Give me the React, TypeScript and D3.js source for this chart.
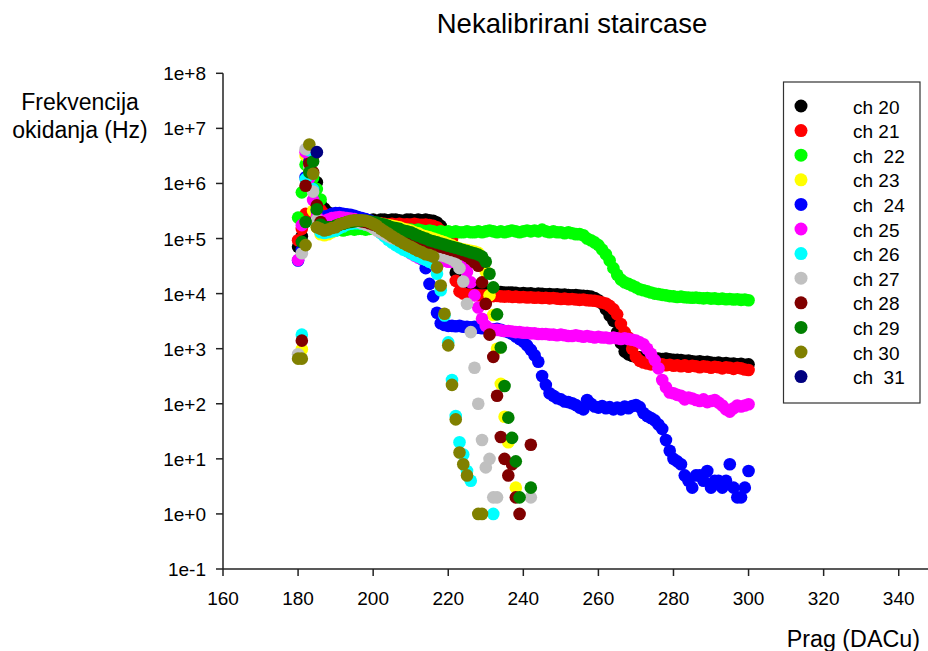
import React from 'react';
import * as d3 from 'd3';

// DAC threshold of the first value in every series (one value per DAC step, null = no count)
const DAC_START = 180;

const xTickValues = [160, 180, 200, 220, 240, 260, 280, 300, 320, 340];
const yTickExponents = [-1, 0, 1, 2, 3, 4, 5, 6, 7, 8];

const ch20 = [
  7.1e4, 1.1e5, 2.1e5, 2.0e6, 3.5e6, 1.05e6, 4.2e5, 3.5e5, 3.0e5, 2.6e5,
  2.4e5, 2.3e5, 2.25e5, 2.2e5, 2.2e5, 2.2e5, 2.15e5, 2.2e5, 2.2e5, 2.15e5,
  2.2e5, 2.1e5, 2.2e5, 2.2e5, 2.15e5, 2.2e5, 2.2e5, 2.15e5, 2.1e5, 2.2e5,
  2.2e5, 2.15e5, 2.2e5, 2.15e5, 2.2e5, 2.15e5, 2.1e5, 1.95e5, 1.7e5, 1.2e5,
  7e4, 4e4, 2.4e4, 1.6e4, 1.25e4, 1.2e4, 1.15e4, 1.1e4, 1.12e4, 1.1e4,
  1.08e4, 1.1e4, 1.08e4, 1.05e4, 1.07e4, 1.05e4, 1.04e4, 1.05e4, 1.03e4, 1.0e4,
  1.02e4, 1.0e4, 1.01e4, 9.8e3, 1.0e4, 9.9e3, 9.7e3, 9.8e3, 9.6e3, 9.7e3,
  9.5e3, 9.6e3, 9.4e3, 9.3e3, 9.4e3, 9.2e3, 9.1e3, 9.0e3, 8.8e3, 8.3e3,
  7.6e3, 6.6e3, 5.2e3, 4.0e3, 3.2e3, 2.0e3, 1.26e3, 890, 790, 740,
  710, 700, 690, 680, 690, 670, 660, 650, 660, 640,
  630, 630, 620, 600, 610, 590, 580, 590, 570, 580,
  560, 550, 560, 540, 550, 530, 540, 520, 530, 510,
  520,
];

const ch21 = [
  9.3e4, 1.5e5, 2.8e5, 1.6e6, 3.1e6, 4.9e5, 3.3e5, 2.8e5, 2.5e5, 2.2e5,
  2.1e5, 1.95e5, 1.9e5, 1.9e5, 1.85e5, 1.9e5, 1.85e5, 1.9e5, 1.85e5, 1.85e5,
  1.8e5, 1.85e5, 1.9e5, 1.85e5, 1.8e5, 1.85e5, 1.8e5, 1.85e5, 1.8e5, 1.82e5,
  1.8e5, 1.85e5, 1.8e5, 1.78e5, 1.8e5, 1.75e5, 1.7e5, 1.6e5, 1.4e5, 1.25e5,
  1.15e5, 9.8e4, 1.7e4, 1.1e4, 1.0e4, 9.6e3, 9.4e3, 9.5e3, 9.3e3, 9.2e3,
  9.3e3, 9.1e3, 9.0e3, 9.1e3, 8.9e3, 8.8e3, 8.9e3, 8.7e3, 8.8e3, 8.6e3,
  8.7e3, 8.5e3, 8.6e3, 8.4e3, 8.5e3, 8.3e3, 8.4e3, 8.2e3, 8.3e3, 8.1e3,
  8.0e3, 8.1e3, 7.9e3, 8.0e3, 7.8e3, 7.7e3, 7.8e3, 7.6e3, 7.5e3, 7.4e3,
  7.2e3, 6.9e3, 6.6e3, 6.0e3, 5.2e3, 4.2e3, 2.8e3, 2.0e3, 1.6e3, 1.0e3,
  710, 600, 560, 540, 520, 530, 510, 520, 500, 510,
  490, 500, 480, 500, 470, 490, 480, 460, 480, 470,
  450, 470, 460, 440, 460, 450, 430, 450, 440, 420,
  410,
];

const ch22 = [
  2.4e5, 6.9e5, 2.2e6, 2.8e6, 1.26e6, 7.9e5, 5.1e5, 2.5e5, 1.66e5, 1.45e5,
  1.4e5, 1.45e5, 1.4e5, 1.45e5, 1.5e5, 1.45e5, 1.5e5, 1.5e5, 1.45e5, 1.5e5,
  1.55e5, 1.5e5, 1.45e5, 1.5e5, 1.45e5, 1.5e5, 1.45e5, 1.4e5, 1.45e5, 1.4e5,
  1.45e5, 1.4e5, 1.45e5, 1.4e5, 1.35e5, 1.4e5, 1.35e5, 1.3e5, 1.35e5, 1.3e5,
  1.35e5, 1.3e5, 1.35e5, 1.3e5, 1.3e5, 1.35e5, 1.3e5, 1.3e5, 1.35e5, 1.3e5,
  1.35e5, 1.4e5, 1.35e5, 1.3e5, 1.35e5, 1.3e5, 1.35e5, 1.4e5, 1.35e5, 1.3e5,
  1.35e5, 1.4e5, 1.35e5, 1.4e5, 1.35e5, 1.45e5, 1.35e5, 1.3e5, 1.35e5, 1.3e5,
  1.3e5, 1.25e5, 1.3e5, 1.25e5, 1.2e5, 1.2e5, 1.15e5, 1.0e5, 9.3e4, 8.5e4,
  7.6e4, 6.3e4, 5.2e4, 4.0e4, 2.9e4, 2.2e4, 1.8e4, 1.6e4, 1.5e4, 1.4e4,
  1.3e4, 1.2e4, 1.15e4, 1.1e4, 1.05e4, 1.0e4, 9.8e3, 9.5e3, 9.3e3, 9.0e3,
  8.9e3, 8.7e3, 8.8e3, 8.6e3, 8.5e3, 8.4e3, 8.5e3, 8.3e3, 8.2e3, 8.3e3,
  8.1e3, 8.2e3, 8.0e3, 8.1e3, 7.9e3, 8.0e3, 7.8e3, 7.9e3, 7.7e3, 7.8e3,
  7.6e3,
];

const ch23 = [
  null, 980, 3.2e6, 1.6e6, 3.2e5, 1.6e5, 1.2e5, 1.15e5, 1.2e5, 1.3e5,
  1.45e5, 1.6e5, 1.75e5, 1.85e5, 1.95e5, 2.0e5, 2.0e5, 2.0e5, 1.95e5, 1.95e5,
  1.9e5, 1.9e5, 1.85e5, 1.8e5, 1.75e5, 1.7e5, 1.65e5, 1.6e5, 1.5e5, 1.45e5,
  1.4e5, 1.3e5, 1.25e5, 1.15e5, 1.1e5, 1.05e5, 1.0e5, 9.5e4, 9.0e4, 8.5e4,
  8.0e4, 7.5e4, 7.0e4, 6.6e4, 6.4e4, 6.2e4, 6.0e4, 5.8e4, 5.5e4, 3.5e4,
  2.5e4, 9.3e3, 4.1e3, 1.0e3, 230, 58, 20, null, 3,
];

const ch24 = [
  4.0e4, 6.2e4, 1.3e6, 2.5e6, 7.9e5, 3.2e5, 2.5e5, 2.5e5, 2.6e5, 2.8e5,
  2.9e5, 2.9e5, 2.8e5, 2.75e5, 2.7e5, 2.6e5, 2.45e5, 2.35e5, 2.25e5, 2.15e5,
  2.0e5, 1.85e5, 1.75e5, 1.6e5, 1.45e5, 1.3e5, 1.2e5, 1.05e5, 9.3e4, 7.9e4,
  6.8e4, 5.6e4, 4.8e4, 4.2e4, 2.9e4, 1.5e4, 8.9e3, 4.5e3, 2.9e3, 2.7e3,
  2.6e3, 2.6e3, 2.55e3, 2.6e3, 2.5e3, 2.5e3, 2.45e3, 2.5e3, 2.4e3, 2.35e3,
  2.4e3, 2.3e3, 2.25e3, 2.3e3, 2.2e3, 2.1e3, 2.0e3, 1.86e3, 1.66e3, 1.5e3,
  1.35e3, 1.15e3, 950, 760, 580, 320, 220, 155, 140, 126,
  120, 110, 107, 102, 95, 85, 79, 117, 100, 89,
  85, 91, 83, 87, 79, 85, 79, 89, 83, 91,
  95, 87, 68, 60, 55, 50, 42, 35, 22, 14,
  10, 9, 8, 5, 4, 3, 5, 5, 4, 6,
  3, 4, 4, 3, 4, 8, 3, 2, 2, 3,
  6,
];

const ch25 = [
  4.1e4, 1.75e5, 3.7e6, 1.26e6, 5.0e5, 2.5e5, 2.1e5, 2.1e5, 2.2e5, 2.35e5,
  2.4e5, 2.45e5, 2.4e5, 2.35e5, 2.3e5, 2.25e5, 2.15e5, 2.05e5, 1.95e5, 1.85e5,
  1.75e5, 1.6e5, 1.45e5, 1.3e5, 1.2e5, 1.05e5, 9.1e4, 7.9e4, 6.9e4, 6.0e4,
  5.4e4, 4.9e4, 4.5e4, 4.3e4, 4.2e4, 4.0e4, 4.1e4, 4.0e4, 3.9e4, 4.0e4,
  3.8e4, 3.8e4, 3.7e4, 3.5e4, 3.2e4, 2.5e4, 1.6e4, 9.3e3, 5.6e3, 3.5e3,
  2.6e3, 2.3e3, 2.2e3, 2.2e3, 2.15e3, 2.1e3, 2.1e3, 2.05e3, 2.0e3, 2.0e3,
  1.95e3, 1.95e3, 1.9e3, 1.9e3, 1.85e3, 1.85e3, 1.85e3, 1.8e3, 1.8e3, 1.75e3,
  1.8e3, 1.75e3, 1.7e3, 1.7e3, 1.75e3, 1.7e3, 1.65e3, 1.7e3, 1.65e3, 1.6e3,
  1.65e3, 1.6e3, 1.6e3, 1.55e3, 1.6e3, 1.55e3, 1.5e3, 1.55e3, 1.5e3, 1.45e3,
  1.4e3, 1.3e3, 1.2e3, 1.0e3, 810, 620, 440, 270, 200, 160,
  155, 145, 140, 120, 130, 125, 117, 112, 120, 107,
  112, 117, 105, 93, 79, 72, 83, 93, 89, 93,
  98,
];

const ch26 = [
  null, 1.8e3, 1.2e6, 4.0e6, 7.9e5, 2.0e5, 1.3e5, 1.26e5, 1.3e5, 1.35e5,
  1.4e5, 1.55e5, 1.65e5, 1.8e5, 1.85e5, 1.9e5, 1.9e5, 1.85e5, 1.8e5, 1.75e5,
  1.6e5, 1.45e5, 1.26e5, 1.1e5, 9.5e4, 8.5e4, 7.6e4, 6.9e4, 6.3e4, 5.9e4,
  5.5e4, 5.0e4, 4.7e4, 4.4e4, 4.1e4, 3.8e4, 3.5e4, 2.3e4, 1.15e4, 4.0e3,
  1.3e3, 270, 60, 20, 12, 6, 4, null, null, null,
  null, null, 1,
];

const ch27 = [
  790, 5.4e4, 4.2e6, 2.0e6, 7.1e5, 2.2e5, 1.6e5, 1.5e5, 1.5e5, 1.55e5,
  1.65e5, 1.8e5, 1.9e5, 2.0e5, 2.05e5, 2.05e5, 2.0e5, 1.9e5, 1.8e5, 1.7e5,
  1.55e5, 1.4e5, 1.3e5, 1.2e5, 1.1e5, 1.02e5, 9.8e4, 9.5e4, 9.3e4, 9.1e4,
  8.7e4, 8.1e4, 7.6e4, 7.1e4, 6.6e4, 6.2e4, 5.8e4, 5.4e4, 5.0e4, 4.8e4,
  4.5e4, 4.2e4, 3.8e4, 2.9e4, 1.66e4, 6.5e3, 2.0e3, 450, 100, 22,
  7, 10, 2, 2, null, null, null, null, null, null,
  null, null, 2,
];

const ch28 = [
  null, 1.4e3, 9.1e5, 2.3e6, 1.6e6, 4.0e5, 2.0e5, 1.65e5, 1.6e5, 1.6e5,
  1.7e5, 1.8e5, 1.9e5, 2.0e5, 2.05e5, 2.1e5, 2.1e5, 2.05e5, 2.0e5, 1.9e5,
  1.8e5, 1.7e5, 1.6e5, 1.5e5, 1.4e5, 1.35e5, 1.26e5, 1.2e5, 1.12e5, 1.07e5,
  1.02e5, 9.8e4, 9.3e4, 8.9e4, 8.5e4, 8.1e4, 7.8e4, 7.4e4, 7.1e4, 6.8e4,
  6.5e4, 6.2e4, 5.9e4, 5.6e4, 5.2e4, 4.8e4, 4.3e4, 3.7e4, 3.2e4, 1.6e4,
  6.5e3, 1.8e3, 710, 140, 25, 10, 5, 8, 2, 1,
  null, null, 18,
];

const ch29 = [
  null, 8.7e4, 2.0e5, 1.6e6, 2.5e6, 3.4e5, 1.8e5, 1.6e5, 1.6e5, 1.6e5,
  1.7e5, 1.8e5, 1.85e5, 1.95e5, 2.0e5, 2.05e5, 2.1e5, 2.1e5, 2.1e5, 2.05e5,
  2.0e5, 1.95e5, 1.85e5, 1.8e5, 1.7e5, 1.6e5, 1.55e5, 1.5e5, 1.4e5, 1.35e5,
  1.3e5, 1.2e5, 1.12e5, 1.05e5, 1.0e5, 9.3e4, 8.9e4, 8.5e4, 8.1e4, 7.8e4,
  7.4e4, 7.1e4, 6.8e4, 6.5e4, 6.2e4, 5.9e4, 5.6e4, 5.4e4, 5.1e4, 4.7e4,
  3.8e4, 2.3e4, 1.3e4, 4.2e3, 1.05e3, 210, 56, 24, 9, 2,
  null, null, 3,
];

const ch30 = [
  660, 660, 7.6e4, 5.1e6, 1.5e6, 1.6e5, 1.5e5, 1.4e5, 1.45e5, 1.55e5,
  1.6e5, 1.8e5, 1.9e5, 2.0e5, 2.1e5, 2.15e5, 2.15e5, 2.15e5, 2.1e5, 2.0e5,
  1.85e5, 1.7e5, 1.5e5, 1.35e5, 1.23e5, 1.1e5, 1.0e5, 9.1e4, 8.3e4, 7.6e4,
  7.1e4, 6.5e4, 6.0e4, 5.6e4, 5.2e4, 5.0e4, 4.7e4, 3.0e4, 1.4e4, 4.3e3,
  1.15e3, 220, 52, 13, 8, 5, null, null, 1, 1,
];

const ch31 = [null, null, null, null, null, 3.7e6];

const seriesNames = ['ch 20', 'ch 21', 'ch  22', 'ch 23', 'ch  24', 'ch 25', 'ch 26', 'ch 27', 'ch 28', 'ch 29', 'ch 30', 'ch  31'];
const seriesColors = ['#000000', '#ff0000', '#00ff00', '#ffff00', '#0000ff', '#ff00ff', '#00ffff', '#c0c0c0', '#800000', '#008000', '#808000', '#000080'];
const seriesValues = [ch20, ch21, ch22, ch23, ch24, ch25, ch26, ch27, ch28, ch29, ch30, ch31];

const W = 928;
const H = 651;
const FONT = '"Liberation Sans", Arial, Helvetica, sans-serif';

export default function App() {
  const x = d3.scaleLinear().domain([160, 347.8]).range([223, 928]);
  const y = d3.scaleLog().domain([0.1, 1e8]).range([569, 73.3]);
  const axisColor = '#222';

  const fmtExp = (e: number) => `1e${e < 0 ? '-' : '+'}${Math.abs(e)}`;

  return (
    <svg width={W} height={H} style={{ position: 'absolute', left: 0, top: 0, background: '#fff' }} fontFamily={FONT}>
      {/* title */}
      <text x={572} y={32.5} textAnchor="middle" fontSize={27.5} fill="#000">Nekalibrirani staircase</text>

      {/* y axis label */}
      <text x={80} y={109.5} textAnchor="middle" fontSize={23} fill="#000">Frekvencija</text>
      <text x={80} y={137.5} textAnchor="middle" fontSize={23} fill="#000">okidanja (Hz)</text>

      {/* x axis label */}
      <text x={920} y={647} textAnchor="end" fontSize={23.3} fill="#000">Prag (DACu)</text>

      {/* data */}
      <g>
        {seriesValues.map((vals, si) => (
          <g key={si}>
            {vals.map((v, i) =>
              v == null ? null : (
                <circle key={i} cx={x(DAC_START + i)} cy={y(v as number)} r={6.3} fill={seriesColors[si]} />
              )
            )}
          </g>
        ))}
      </g>

      {/* y axis */}
      <line x1={x(160)} x2={x(160)} y1={y(1e8)} y2={y(0.1)} stroke={axisColor} strokeWidth={1.5} />
      {yTickExponents.map((e) => {
        const yy = y(Math.pow(10, e));
        return (
          <g key={e}>
            <line x1={x(160) - 7} x2={x(160)} y1={yy} y2={yy} stroke={axisColor} strokeWidth={1.5} />
            <text x={206} y={yy + 7} textAnchor="end" fontSize={19} fill="#000">{fmtExp(e)}</text>
          </g>
        );
      })}

      {/* x axis */}
      <line x1={x(160)} x2={W} y1={y(0.1)} y2={y(0.1)} stroke={axisColor} strokeWidth={1.5} />
      {xTickValues.map((t) => (
        <g key={t}>
          <line x1={x(t)} x2={x(t)} y1={y(0.1)} y2={y(0.1) + 7} stroke={axisColor} strokeWidth={1.5} />
          <text x={x(t)} y={605} textAnchor="middle" fontSize={19} fill="#000">{t}</text>
        </g>
      ))}

      {/* legend */}
      <rect x={783.5} y={82} width={136.5} height={321} fill="#fff" stroke="#333" strokeWidth={1.2} />
      {seriesNames.map((n, i) => {
        const cy = 106 + i * 24.6;
        return (
          <g key={n}>
            <circle cx={801} cy={cy} r={6.5} fill={seriesColors[i]} />
            <text x={853} y={cy + 7.5} fontSize={19} fill="#000" style={{ whiteSpace: 'pre' }}>{n}</text>
          </g>
        );
      })}
    </svg>
  );
}
